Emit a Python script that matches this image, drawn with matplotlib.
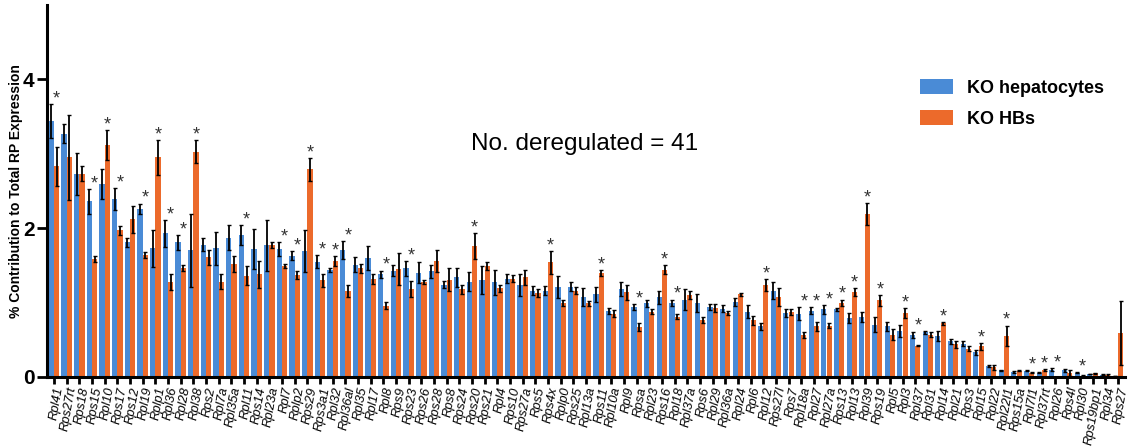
# RP expression bar chart, KO hepatocytes vs KO HBs

import numpy as np
from matplotlib import pyplot as plt

plt.rcParams["font.family"] = ["Liberation Sans", "DejaVu Sans"]

# genes in plotted order
genes = [
    "Rpl41", "Rps27rt", "Rps18", "Rps15", "Rpl10", "Rps17", "Rps12", "Rpl19", "Rplp1", "Rpl36",
    "Rpl28", "Rpl38", "Rps2", "Rpl7a", "Rpl35a", "Rpl11", "Rps14", "Rpl23a", "Rpl7", "Rplp2",
    "Rps29", "Rps3a1", "Rpl32", "Rpl36al", "Rpl35", "Rpl17",
    "Rpl8", "Rps9", "Rps23", "Rps26", "Rps28", "Rps8", "Rps24", "Rps20", "Rps21", "Rpl4",
    "Rps10", "Rps27a", "Rps5", "Rps4x", "Rplp0", "Rps25", "Rpl13a", "Rps11", "Rpl10a", "Rpl9",
    "Rpsa", "Rpl23", "Rps16", "Rpl18", "Rpl37a", "Rps6", "Rpl29", "Rpl36a", "Rpl24",
    "Rpl6", "Rpl12", "Rps27l", "Rps7", "Rpl18a", "Rpl27", "Rpl27a", "Rps13", "Rpl13", "Rpl39",
    "Rps19", "Rpl5", "Rpl3", "Rpl37", "Rpl31", "Rpl14", "Rpl21", "Rps3", "Rpl15", "Rpl22",
    "Rpl22l1", "Rps15a", "Rpl7l1", "Rpl37rt", "Rpl26", "Rps4l", "Rpl30", "Rps19bp1", "Rpl34", "Rps27",
]

# KO hepatocytes (mean, error)
hep = [
    3.44, 3.27, 2.73, 2.36, 2.59, 2.39, 1.81, 2.26, 1.73, 1.93, 1.81, 1.70, 1.78, 1.73, 1.87, 1.91,
    1.72, 1.77, 1.72, 1.63, 1.69, 1.55, 1.44, 1.71, 1.51, 1.60,
    1.38, 1.43, 1.46, 1.40, 1.42, 1.24, 1.34, 1.28, 1.30, 1.27, 1.32, 1.24, 1.16, 1.16, 1.21, 1.21,
    1.07, 1.11, 0.89, 1.18, 0.94, 0.99, 1.07, 1.00, 1.04, 0.99, 0.94, 0.92, 1.01,
    0.88, 0.68, 1.16, 0.86, 0.85, 0.89, 0.91, 0.91, 0.79, 0.81, 0.70, 0.68, 0.62, 0.57, 0.60, 0.55,
    0.48, 0.45, 0.33, 0.15, 0.09, 0.07, 0.085, 0.06, 0.10, 0.09, 0.06, 0.04, 0.03, 0.01,
]
hep_err = [
    0.23, 0.13, 0.28, 0.17, 0.20, 0.15, 0.06, 0.07, 0.25, 0.18, 0.10, 0.49, 0.09, 0.22, 0.17, 0.13,
    0.27, 0.34, 0.09, 0.06, 0.28, 0.09, 0.03, 0.12, 0.10, 0.16,
    0.05, 0.07, 0.10, 0.14, 0.09, 0.05, 0.13, 0.13, 0.19, 0.17, 0.06, 0.15, 0.06, 0.06, 0.15, 0.06,
    0.12, 0.10, 0.04, 0.09, 0.04, 0.05, 0.09, 0.04, 0.14, 0.12, 0.04, 0.05, 0.05,
    0.09, 0.05, 0.11, 0.06, 0.09, 0.05, 0.06, 0.02, 0.07, 0.07, 0.10, 0.06, 0.08, 0.04, 0.02, 0.07,
    0.03, 0.04, 0.03, 0.01, 0.01, 0.01, 0.01, 0.01, 0.02, 0.02, 0.01, 0.005, 0.005, 0.0,
]

# KO HBs (mean, error)
hbs = [
    2.83, 2.95, 2.73, 1.58, 3.12, 1.97, 2.12, 1.64, 2.95, 1.28, 1.46, 3.03, 1.61, 1.28, 1.52, 1.36,
    1.38, 1.78, 1.49, 1.37, 2.79, 1.30, 1.56, 1.15, 1.46, 1.32,
    0.96, 1.45, 1.18, 1.28, 1.56, 1.31, 1.18, 1.76, 1.49, 1.19, 1.32, 1.34, 1.13, 1.54, 0.99, 1.16,
    0.99, 1.40, 0.85, 1.14, 0.67, 0.88, 1.44, 0.81, 1.10, 0.76, 0.93, 0.86, 1.11,
    0.76, 1.24, 1.07, 0.87, 0.57, 0.68, 0.69, 1.00, 1.14, 2.19, 1.03, 0.57, 0.86, 0.42, 0.57, 0.72,
    0.44, 0.38, 0.41, 0.13, 0.55, 0.085, 0.06, 0.095, 0.005, 0.06, 0.02, 0.05, 0.03, 0.59,
]
hbs_err = [
    0.26, 0.57, 0.10, 0.04, 0.20, 0.06, 0.18, 0.04, 0.23, 0.11, 0.04, 0.15, 0.10, 0.10, 0.11, 0.13,
    0.18, 0.04, 0.03, 0.05, 0.15, 0.09, 0.07, 0.08, 0.06, 0.07,
    0.05, 0.21, 0.11, 0.03, 0.15, 0.15, 0.06, 0.17, 0.05, 0.05, 0.05, 0.10, 0.05, 0.15, 0.04, 0.05,
    0.03, 0.04, 0.05, 0.10, 0.05, 0.04, 0.06, 0.03, 0.05, 0.04, 0.05, 0.03, 0.02,
    0.06, 0.08, 0.12, 0.04, 0.04, 0.06, 0.03, 0.04, 0.05, 0.15, 0.07, 0.07, 0.07, 0.01, 0.03, 0.02,
    0.05, 0.03, 0.05, 0.03, 0.14, 0.01, 0.01, 0.01, 0.0, 0.04, 0.005, 0.01, 0.01, 0.43,
]

# significantly deregulated genes
starred = [
    "Rpl41", "Rps15", "Rpl10", "Rps17", "Rpl19", "Rplp1", "Rpl36", "Rpl28", "Rpl38", "Rpl11",
    "Rpl7", "Rplp2", "Rps29", "Rps3a1", "Rpl32", "Rpl36al",
    "Rpl8", "Rps23", "Rps20", "Rps4x", "Rps11", "Rpsa", "Rps16", "Rpl18",
    "Rpl12", "Rpl18a", "Rpl27", "Rpl27a", "Rps13", "Rpl13", "Rpl39", "Rps19", "Rpl3", "Rpl37",
    "Rpl14", "Rpl15", "Rpl22l1", "Rpl7l1", "Rpl37rt", "Rpl26", "Rpl30",
]

blue = "#4a8bd6"
orange = "#ec6a2b"

x = np.arange(len(genes))
w = 0.4
off = 0.21

fig = plt.figure(figsize=(11.31, 4.48), dpi=100)
ax = fig.add_axes([0.0416, 0.1585, 0.953, 0.8305])

err_kw = dict(ecolor="black", elinewidth=1.3, capsize=1.6, capthick=1.0)
ax.bar(x - off, hep, w, yerr=hep_err, color=blue, label="KO hepatocytes", error_kw=err_kw)
ax.bar(x + off, hbs, w, yerr=hbs_err, color=orange, label="KO HBs", error_kw=err_kw)

# asterisks above significant groups
for g in starred:
    i = genes.index(g)
    top = max(hep[i] + hep_err[i], hbs[i] + hbs_err[i])
    ax.text(i + off, top + 0.07, "*", ha="center", va="center", fontsize=13, color="#333333")

ax.text(0.499, 0.625, "No. deregulated = 41", transform=ax.transAxes, fontsize=17.5,
        ha="center", va="center")

ax.set_xlim(-0.55, len(genes) - 0.45)
ax.set_ylim(0, 5)
ax.set_yticks([0, 2, 4])
ax.set_yticklabels(["0", "2", "4"], fontsize=15, fontweight="bold")
ax.set_xticks(x)
ax.set_xticklabels(genes, rotation=80, ha="right", rotation_mode="anchor", fontsize=9.3,
                   fontstyle="italic")
ax.tick_params(axis="x", length=5, width=2, pad=1.5)
ax.tick_params(axis="y", length=7, width=2, pad=2)
ax.set_ylabel("% Contribution to Total RP Expression", fontsize=10, fontweight="bold")
ax.yaxis.set_label_coords(-0.022, 0.5)

for s in ["top", "right"]:
    ax.spines[s].set_visible(False)
for s in ["left", "bottom"]:
    ax.spines[s].set_linewidth(2.2)

ax.legend(loc="upper left", bbox_to_anchor=(0.795, 0.845), frameon=False,
          prop={"weight": "bold", "size": 13}, handlelength=1.8, handleheight=0.9,
          labelspacing=0.75, handletextpad=0.8)

plt.savefig("out.png", dpi=100)
